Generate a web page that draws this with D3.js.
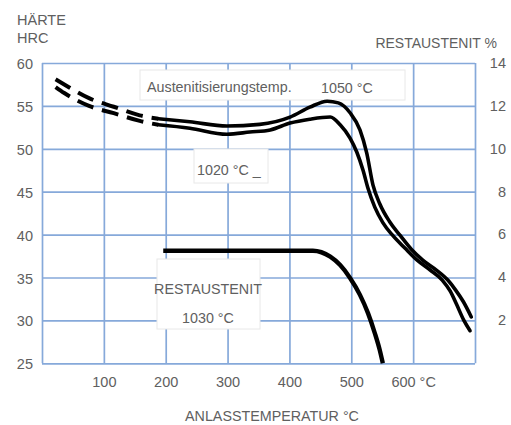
<!DOCTYPE html>
<html>
<head>
<meta charset="utf-8">
<script src="https://cdn.jsdelivr.net/npm/d3@7"></script>
<style>
  body { margin: 0; background: #fff; }
  svg { display: block; }
  text { font-family: "Liberation Sans", Arial, sans-serif; fill: #606060; }
</style>
</head>
<body>
<svg width="511" height="425"></svg>
<script>
const svg = d3.select("svg");

// tick values
const tempTicks = [100, 200, 300, 400, 500, 600];
const tempTickLabels = ["100", "200", "300", "400", "500", "600 °C"];
const hrcTicks = [25, 30, 35, 40, 45, 50, 55, 60];
const raTicks = [2, 4, 6, 8, 10, 12, 14];

// hardness HRC after 1050 °C hardening  [temp, HRC]
const hard1050 = [
  [22, 58.1], [36, 57.5], [76, 55.9], [116, 54.9], [158, 53.9], [188, 53.5],
  [239, 53.15], [299, 52.65], [352, 52.85], [401, 53.7], [433, 54.85],
  [461, 55.55], [479, 55.35], [498, 54.2], [514, 52.2], [525, 49.5],
  [535, 45.8], [546, 43.6], [562, 41.5], [579, 39.9], [597, 38.3],
  [616, 37.0], [637, 35.9], [656, 34.7], [669, 33.5], [681, 32.2], [694, 30.4]
];
// hardness HRC after 1020 °C hardening
const hard1020 = [
  [22, 57.2], [36, 56.5], [76, 55.0], [116, 54.15], [158, 53.25], [188, 52.8],
  [239, 52.4], [299, 51.7], [336, 51.95], [369, 52.2], [401, 53.0],
  [433, 53.45], [466, 53.7], [482, 52.8], [498, 51.25], [509, 49.6],
  [519, 47.5], [527, 45.4], [538, 43.2], [551, 41.4], [567, 39.9],
  [587, 38.4], [606, 37.05], [627, 35.9], [647, 34.7], [660, 33.4],
  [670, 31.9], [682, 30.0], [692, 28.8]
];
// restaustenit % after 1030 °C  [temp, %]
const rest1030 = [
  [196, 5.25], [438, 5.25], [466, 4.97], [482, 4.58], [498, 3.98],
  [514, 3.19], [527, 2.34], [538, 1.41], [546, 0.62], [551, 0.0]
];
const dashedUntil = 188; // curves are dashed below this temperature

const plotL = 42, plotR = 475, plotT = 63, plotB = 363.3;

const x = d3.scaleLinear().domain([0, 700]).range([plotL, plotR]);
const yL = d3.scaleLinear().domain([25, 60]).range([plotB, plotT]);
const yR = d3.scaleLinear().domain([0, 14]).range([plotB, plotT]);

const gridColor = "#86a9da";

// grid
svg.append("g")
  .attr("transform", `translate(0,${plotB})`)
  .call(d3.axisBottom(x).tickValues(d3.range(0, 701, 100)).tickSize(-(plotB - plotT)).tickFormat(""))
  .call(g => g.select(".domain").remove())
  .call(g => g.selectAll("line").attr("stroke", gridColor).attr("stroke-width", 1.7));

svg.append("g")
  .attr("transform", `translate(${plotL},0)`)
  .call(d3.axisLeft(yL).tickValues(hrcTicks).tickSize(-(plotR - plotL)).tickFormat(""))
  .call(g => g.select(".domain").remove())
  .call(g => g.selectAll("line").attr("stroke", gridColor).attr("stroke-width", 1.7));

// tick labels
svg.append("g")
  .attr("transform", `translate(0,${plotB})`)
  .call(d3.axisBottom(x).tickValues(tempTicks).tickSize(0).tickPadding(13)
    .tickFormat((d, i) => tempTickLabels[i]))
  .call(g => g.select(".domain").remove())
  .call(g => g.selectAll("text").attr("font-size", 14.5).attr("fill", "#606060"));

svg.append("g")
  .attr("transform", `translate(${plotL},0)`)
  .call(d3.axisLeft(yL).tickValues(hrcTicks).tickSize(0).tickPadding(9))
  .call(g => g.select(".domain").remove())
  .call(g => g.selectAll("text").attr("font-size", 14.5).attr("dy", "0.38em").attr("fill", "#606060"));

svg.append("g")
  .attr("transform", `translate(${plotR},0)`)
  .call(d3.axisRight(yR).tickValues(raTicks).tickSize(0))
  .call(g => g.select(".domain").remove())
  .call(g => g.selectAll("text").attr("font-size", 14.5).attr("text-anchor", "end")
    .attr("x", 31).attr("dy", "0.3em").attr("fill", "#606060"));

// axis titles
svg.append("text").attr("x", 17).attr("y", 25).attr("font-size", 14.5).text("HÄRTE");
svg.append("text").attr("x", 17).attr("y", 43).attr("font-size", 14.5).text("HRC");
svg.append("text").attr("x", 497).attr("y", 48).attr("font-size", 14).attr("text-anchor", "end").text("RESTAUSTENIT %");
svg.append("text").attr("x", 272).attr("y", 421).attr("font-size", 14.3).attr("text-anchor", "middle").text("ANLASSTEMPERATUR °C");

// label boxes
const boxes = [
  { x: 140, y: 70, w: 265, h: 30 },
  { x: 194, y: 149, w: 74, h: 34 },
  { x: 157, y: 259, w: 103, h: 70 }
];
svg.append("g").selectAll("rect").data(boxes).join("rect")
  .attr("x", d => d.x).attr("y", d => d.y).attr("width", d => d.w).attr("height", d => d.h)
  .attr("fill", "#fff").attr("stroke", "#e8e8e8").attr("stroke-width", 1);

svg.append("text").attr("x", 147).attr("y", 92).attr("font-size", 14.3).text("Austenitisierungstemp.");
svg.append("text").attr("x", 321).attr("y", 93).attr("font-size", 14.3).text("1050 °C");
svg.append("text").attr("x", 197).attr("y", 175).attr("font-size", 14.3).text("1020 °C _");
svg.append("text").attr("x", 208).attr("y", 294).attr("font-size", 14.3).attr("text-anchor", "middle").text("RESTAUSTENIT");
svg.append("text").attr("x", 208).attr("y", 323).attr("font-size", 14.3).attr("text-anchor", "middle").text("1030 °C");

// curves
const hardLine = d3.line().x(d => x(d[0])).y(d => yL(d[1])).curve(d3.curveMonotoneX);
const raLine = d3.line().x(d => x(d[0])).y(d => yR(d[1])).curve(d3.curveMonotoneX);

const curves = svg.append("g").attr("fill", "none").attr("stroke", "#000").attr("stroke-linejoin", "round");
[hard1050, hard1020].forEach(pts => {
  const dashed = pts.filter(d => d[0] <= dashedUntil);
  const solid = pts.filter(d => d[0] >= dashedUntil);
  curves.append("path").attr("d", hardLine(dashed))
    .attr("stroke-width", 4).attr("stroke-dasharray", "17,9");
  curves.append("path").attr("d", hardLine(solid)).attr("stroke-width", 3.6).attr("stroke-linecap", "round");
});
curves.append("path").attr("d", raLine(rest1030)).attr("stroke-width", 4.4);
</script>
</body>
</html>
